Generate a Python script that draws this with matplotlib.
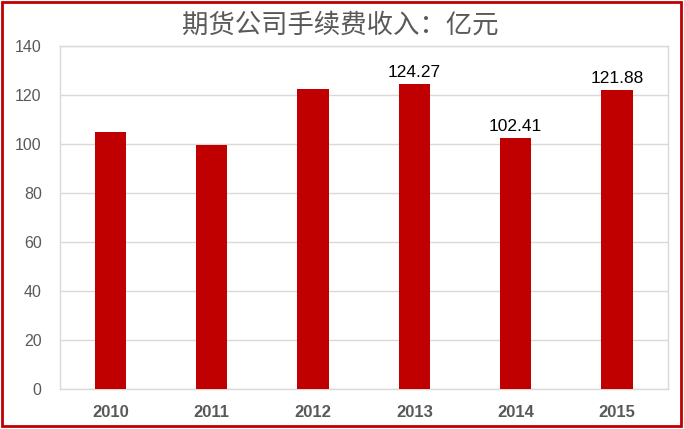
import matplotlib
matplotlib.use("Agg")
import matplotlib.pyplot as plt
from matplotlib.patches import Rectangle

plt.rcParams['font.family'] = ['Noto Sans CJK SC', 'DejaVu Sans']

years = ['2010', '2011', '2012', '2013', '2014', '2015']
revenue = [104.7, 99.5, 122.5, 124.27, 102.41, 121.88]
labels = ['', '', '', '124.27', '102.41', '121.88']
title = '期货公司手续费收入：亿元'

W, H = 684, 429
fig = plt.figure(figsize=(W / 100, H / 100), dpi=100)
ax = fig.add_axes([59.7 / W, 1 - 389.3 / H, (667.7 - 59.7) / W, (389.3 - 45.7) / H])

x = list(range(len(years)))
bars = ax.bar(x, revenue, width=0.31, color='#C00000', zorder=3)
for b, lab in zip(bars, labels):
    if lab:
        ax.annotate(lab, (b.get_x() + b.get_width() / 2, b.get_height()),
                    xytext=(0, 3), textcoords='offset points', ha='center', va='bottom',
                    fontsize=12.5, color='#000000', family=['Liberation Sans', 'DejaVu Sans'])

ax.set_xlim(-0.5, len(years) - 0.5)
ax.set_ylim(0, 140)
ax.set_yticks(range(0, 141, 20))
ax.set_xticks(x)
ax.set_xticklabels(years, fontweight='bold', color='#595959', fontsize=12,
                   family=['Liberation Sans', 'DejaVu Sans'])
for t in ax.get_yticklabels():
    t.set_color('#595959')
    t.set_fontsize(11.5)
    t.set_family(['Liberation Sans', 'DejaVu Sans'])
ax.tick_params(axis='both', length=0)
ax.tick_params(axis='y', pad=13)
ax.tick_params(axis='x', pad=11)
ax.grid(axis='y', color='#D9D9D9', linewidth=1, zorder=0)
for s in ax.spines.values():
    s.set_color('#D9D9D9')
    s.set_linewidth(1)

fig.text(340 / W, 1 - 25 / H, title, ha='center', va='center', fontsize=19, color='#595959')

fig.patches.append(Rectangle((1.5 / W, 3 / H), 679 / W, 424.5 / H, transform=fig.transFigure,
                             fill=False, edgecolor='#C00000', linewidth=2))

fig.savefig('out.png', dpi=100)
